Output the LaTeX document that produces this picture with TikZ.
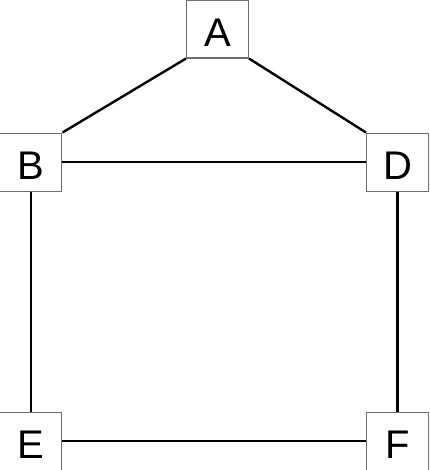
\documentclass[tikz,border=0pt]{standalone}
\usepackage{fontspec}
\setmainfont{Liberation Sans}
\usepackage{xcolor}
\usetikzlibrary{positioning}
\definecolor{boxline}{HTML}{6E6E6E}
\definecolor{edgeline}{HTML}{000000}
\tikzset{
  letterbox/.style={draw=boxline, line width=1.1pt, minimum width=62pt, minimum height=58pt, inner sep=0pt, text height=35pt, text depth=0pt, font=\fontsize{40}{40}\selectfont},
  edge/.style={line width=2.4pt, draw=edgeline}
}
\begin{document}
\begin{tikzpicture}
  \useasboundingbox (0pt,0pt) rectangle (429pt,-470pt);
  \node[letterbox] (nA) at (217.5pt,-29pt) {A};

  \node[letterbox, below left=74pt and 123.5pt of nA]  (nB) {B};
  \node[letterbox, below right=74pt and 117pt of nA]  (nD) {D};
  \node[letterbox, below=220pt of nB] (nE) {E};
  \node[letterbox, below=220pt of nD] (nF) {F};

  % roof
  \draw[edge] (nA.south west) -- (nB.north east);
  \draw[edge] (nA.south east) -- (nD.north west);
  \draw[edge] (nB) -- (nD);

  % walls and floor
  \draw[edge] (nB) -- (nE);
  \draw[edge] (nD) -- (nF);
  \draw[edge] (nE) -- (nF);
\end{tikzpicture}
\end{document}
